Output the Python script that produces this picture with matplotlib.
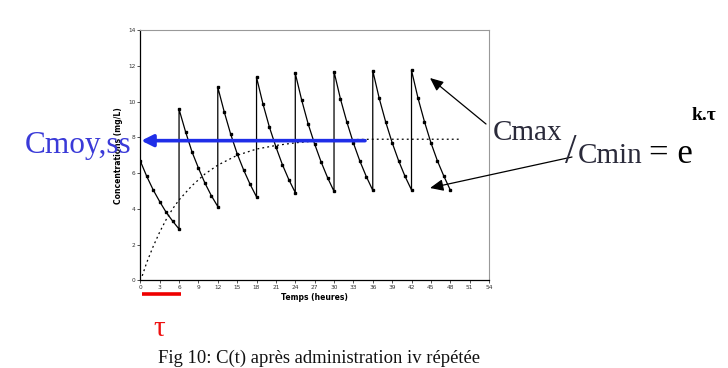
import matplotlib
matplotlib.use("Agg")
import matplotlib.pyplot as plt
import numpy as np

# ---- data ----
dose_starts = [0, 6, 12, 18, 24, 30, 36, 42]
hours_in_interval = [0, 1, 2, 3, 4, 5, 6]
seg_values = [
    [6.68, 5.82, 5.06, 4.41, 3.81, 3.32, 2.87],
    [9.58, 8.33, 7.20, 6.29, 5.45, 4.74, 4.13],
    [10.81, 9.43, 8.18, 7.09, 6.18, 5.38, 4.67],
    [11.37, 9.87, 8.57, 7.47, 6.48, 5.64, 4.91],
    [11.59, 10.08, 8.75, 7.63, 6.63, 5.75, 4.98],
    [11.69, 10.15, 8.85, 7.69, 6.68, 5.81, 5.04],
    [11.74, 10.19, 8.87, 7.71, 6.70, 5.82, 5.06],
    [11.76, 10.21, 8.89, 7.71, 6.70, 5.84, 5.06],
]
avg_t = [0.3, 1, 2, 3, 4, 5, 6, 8, 10, 12, 15, 18, 21, 24, 27, 30, 33, 36, 40, 44, 49.3]
avg_c = [0.25, 1.0, 1.9, 2.7, 3.4, 4.0, 4.5, 5.3, 5.95, 6.45, 7.0, 7.35, 7.55, 7.7, 7.8, 7.85, 7.88, 7.9, 7.9, 7.9, 7.9]
css_value = 7.82
css_arrow_x = [34.8, 0.15]
tau_span = [0.2, 6.3]
x_ticks = list(range(0, 55, 3))
y_ticks = list(range(0, 15, 2))

W, H = 728, 368
fig = plt.figure(figsize=(W / 100, H / 100), dpi=100)
ax = fig.add_axes([140.3 / W, 1 - 280.3 / H, (489 - 140.3) / W, (280.3 - 30.3) / H])

# concentration curve (continuous incl. vertical jumps)
xs, ys = [], []
for s, vals in zip(dose_starts, seg_values):
    for h, v in zip(hours_in_interval, vals):
        xs.append(s + h)
        ys.append(v)
ax.plot(xs, ys, color="black", lw=0.9, marker="s", ms=2.0, mfc="black", mec="black")

# average (dotted)
ax.plot(avg_t, avg_c, color="black", lw=0.9, ls=(0, (1.5, 2.5)))

# blue arrow for Css
ax.annotate("", xy=(css_arrow_x[1], css_value), xytext=(css_arrow_x[0], css_value),
            arrowprops=dict(arrowstyle="-|>,head_length=0.7,head_width=0.35", color="#1f2ee8",
                            lw=2.6, mutation_scale=10, shrinkA=0, shrinkB=0),
            annotation_clip=False)

ax.set_xlim(0, 54)
ax.set_ylim(0, 14)
ax.set_xticks(x_ticks)
ax.set_yticks(y_ticks)
ax.tick_params(axis="both", labelsize=4.2, length=2, width=0.6, pad=1.5, colors="#333333")
for side in ["top", "right"]:
    ax.spines[side].set_color("#999999")
    ax.spines[side].set_linewidth(0.8)
for side in ["left", "bottom"]:
    ax.spines[side].set_color("black")
    ax.spines[side].set_linewidth(0.9)
ax.set_xlabel("Temps (heures)", fontsize=5.5, fontweight="bold", labelpad=2)
ax.set_ylabel("Concentrations (mg/L)", fontsize=5.5, fontweight="bold", labelpad=4)

# red tau bar under x axis
ax.plot(tau_span, [-0.75, -0.75], color="#ee0000", lw=2.6, clip_on=False, solid_capstyle="butt")

# Texts
fig.text(25 / W, 1 - 153 / H, "Cmoy,ss", fontsize=22.5, color="#3a3ad8", family="Liberation Serif",
         ha="left", va="baseline")
fig.text(153 / W, 1 - 336 / H, "τ", fontsize=21, color="#ee1111", family="Liberation Serif",
         ha="left", va="baseline")
fig.text(319 / W, 1 - 363 / H, "Fig 10: C(t) après administration iv répétée", fontsize=13.4,
         family="Liberation Serif", ha="center", va="baseline", color="#111111")

fig.text(493 / W, 1 - 140 / H, "Cmax", fontsize=21, family="Liberation Serif", color="#2a2a3a",
         ha="left", va="baseline")
fig.text(565 / W, 1 - 163 / H, "/", fontsize=30, family="Liberation Serif", color="#2a2a3a",
         ha="left", va="baseline")
fig.text(578 / W, 1 - 163 / H, "Cmin", fontsize=21, family="Liberation Serif", color="#2a2a3a",
         ha="left", va="baseline")
fig.text(649 / W, 1 - 163 / H, "= e", fontsize=25, family="Liberation Serif", color="black",
         ha="left", va="baseline")
fig.text(692 / W, 1 - 120 / H, "k.τ", fontsize=14, family="Liberation Serif", color="black",
         fontweight="bold", ha="left", va="baseline")

# black arrows
for (x0, y0), (x1, y1) in [((486, 124), (430, 78)), ((572, 157), (430, 188))]:
    fig.add_artist(matplotlib.patches.FancyArrowPatch(
        posA=(x0 / W, 1 - y0 / H), posB=(x1 / W, 1 - y1 / H), transform=fig.transFigure,
        arrowstyle="-|>,head_length=0.8,head_width=0.35", mutation_scale=10,
        color="black", lw=0.9, shrinkA=0, shrinkB=0))

fig.savefig("out.png", dpi=100)
